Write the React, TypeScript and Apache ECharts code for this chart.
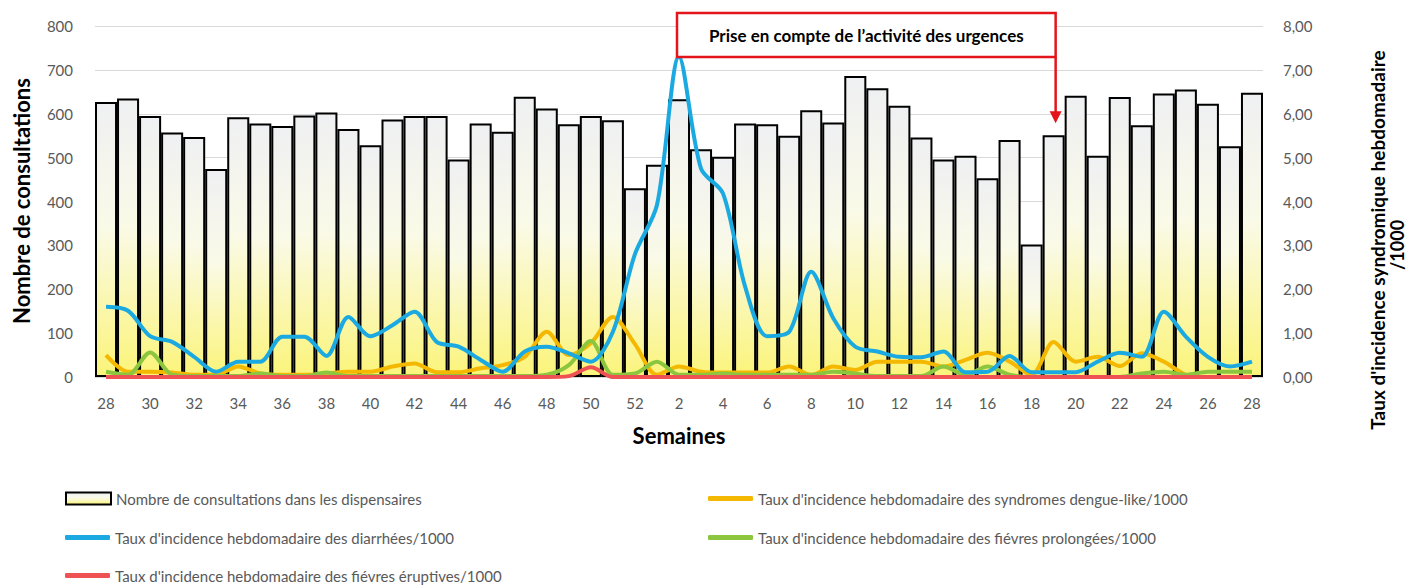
import React, { useEffect, useRef } from 'react';
import * as echarts from 'echarts';

const FONT = 'Lato, "Open Sans", sans-serif';

const weeks = [
  '28', '29', '30', '31', '32', '33', '34', '35', '36', '37', '38', '39', '40', '41', '42', '43', '44', '45', '46', '47', '48', '49', '50', '51', '52',
  '1', '2', '3', '4', '5', '6', '7', '8', '9', '10', '11', '12', '13', '14', '15', '16', '17', '18', '19', '20', '21', '22', '23', '24', '25', '26', '27', '28',
];

const consultations = [
  627, 635, 595, 557, 547, 474, 592, 578, 572, 596, 603, 565, 528, 587, 595, 595, 496, 578, 559, 639, 612, 576, 595, 585, 430,
  484, 633, 519, 502, 578, 576, 550, 608, 580, 686, 658, 618, 546, 496, 504, 453, 540, 302, 551, 641, 504, 638, 574, 646, 655, 623, 526, 648,
];

const diarrhees = [
  1.6, 1.51, 0.93, 0.8, 0.46, 0.12, 0.35, 0.35, 0.92, 0.92, 0.48, 1.37, 0.93, 1.18, 1.49, 0.8, 0.69, 0.39, 0.12, 0.58, 0.69, 0.54, 0.35, 1.03, 2.8,
  3.92, 7.3, 4.75, 4.18, 2.06, 0.93, 1.03, 2.4, 1.34, 0.69, 0.58, 0.46, 0.45, 0.58, 0.11, 0.12, 0.48, 0.11, 0.11, 0.11, 0.35, 0.55, 0.46, 1.49, 0.92, 0.46, 0.24, 0.35,
];

const dengue = [
  0.5, 0.12, 0.12, 0.1, 0.05, 0.05, 0.24, 0.08, 0.05, 0.05, 0.08, 0.12, 0.12, 0.24, 0.31, 0.11, 0.11, 0.2, 0.27, 0.46, 1.03, 0.5, 0.77, 1.37, 0.75,
  0.05, 0.24, 0.12, 0.1, 0.1, 0.1, 0.24, 0.05, 0.24, 0.16, 0.35, 0.35, 0.35, 0.24, 0.39, 0.55, 0.35, 0.05, 0.8, 0.35, 0.46, 0.25, 0.54, 0.35, 0.05, 0, 0, 0,
];

const fievresProlongees = [
  0.12, 0.05, 0.56, 0.05, 0.02, 0.02, 0.02, 0.08, 0.02, 0.02, 0.1, 0.02, 0.02, 0.02, 0.02, 0.02, 0.02, 0.02, 0.02, 0.02, 0.05, 0.27, 0.82, 0.05, 0.08,
  0.35, 0.05, 0.05, 0.08, 0.05, 0.05, 0.05, 0.05, 0.12, 0.08, 0.02, 0.02, 0.02, 0.24, 0.05, 0.24, 0.05, 0, 0, 0, 0, 0, 0.08, 0.12, 0.05, 0.12, 0.12, 0.12,
];

const fievresEruptives = [
  0, 0, 0, 0, 0, 0, 0, 0, 0, 0, 0, 0, 0, 0, 0, 0, 0, 0, 0, 0, 0, 0.02, 0.22, 0, 0,
  0, 0, 0, 0, 0, 0, 0, 0, 0, 0, 0, 0, 0, 0, 0, 0, 0, 0, 0, 0, 0, 0, 0, 0, 0, 0, 0, 0,
];

const NAME_BAR = 'Nombre de consultations dans les dispensaires';
const NAME_DIA = "Taux d'incidence hebdomadaire des diarrhées/1000";
const NAME_ERU = "Taux d'incidence hebdomadaire des fiévres éruptives/1000";
const NAME_DEN = "Taux d'incidence hebdomadaire des syndromes dengue-like/1000";
const NAME_PRO = "Taux d'incidence hebdomadaire des fiévres prolongées/1000";

const ANNOTATION = 'Prise en compte de l’activité des urgences';
const ANNOT_FROM = 26; // semaine 2
const ANNOT_TO = 43; // semaine 19

const legendText = { color: '#595959', fontSize: 15, fontFamily: FONT };

const lineSeries = (name: string, data: number[], color: string, z: number) => ({
  name,
  type: 'line',
  yAxisIndex: 1,
  data,
  symbol: 'none',
  smooth: 0.3,
  z,
  itemStyle: { color },
  lineStyle: { color, width: 4 },
});

export default function App() {
  const ref = useRef<HTMLDivElement>(null);

  useEffect(() => {
    document.body.style.margin = '0';
    const chart = echarts.init(ref.current!, null, { renderer: 'svg' });
    const option: any = {
      animation: false,
      textStyle: { fontFamily: FONT },
      grid: { left: 95, right: 147, top: 26, bottom: 209, containLabel: false },
      xAxis: {
        type: 'category',
        data: weeks,
        boundaryGap: true,
        axisLine: { show: true, lineStyle: { color: '#d9d9d9', width: 1 } },
        axisTick: { show: false },
        axisLabel: { interval: 1, color: '#595959', fontSize: 15, margin: 18, fontFamily: FONT },
        name: 'Semaines',
        nameLocation: 'middle',
        nameGap: 47,
        nameTextStyle: { fontWeight: 'bold', fontSize: 22, color: '#000', fontFamily: FONT },
      },
      yAxis: [
        {
          type: 'value',
          min: 0,
          max: 800,
          interval: 100,
          axisLine: { show: false },
          axisTick: { show: false },
          axisLabel: { color: '#595959', fontSize: 15, margin: 22, fontFamily: FONT },
          splitLine: { show: true, lineStyle: { color: '#d9d9d9', width: 1 } },
        },
        {
          type: 'value',
          min: 0,
          max: 8,
          interval: 1,
          position: 'right',
          axisLine: { show: false },
          axisTick: { show: false },
          splitLine: { show: false },
          axisLabel: {
            color: '#595959',
            fontSize: 15,
            margin: 20,
            fontFamily: FONT,
            formatter: (v: number) => v.toFixed(2).replace('.', ','),
          },
        },
      ],
      legend: [
        { data: [{ name: NAME_BAR, icon: 'rect' }], left: 60, top: 486, itemWidth: 45, itemHeight: 12, selectedMode: false, textStyle: legendText },
        { data: [{ name: NAME_DIA, icon: 'roundRect' }], left: 60, top: 525, itemWidth: 45, itemHeight: 5, selectedMode: false, textStyle: legendText },
        { data: [{ name: NAME_ERU, icon: 'roundRect' }], left: 60, top: 563, itemWidth: 45, itemHeight: 5, selectedMode: false, textStyle: legendText },
        { data: [{ name: NAME_DEN, icon: 'roundRect' }], left: 703, top: 486, itemWidth: 45, itemHeight: 5, selectedMode: false, textStyle: legendText },
        { data: [{ name: NAME_PRO, icon: 'roundRect' }], left: 703, top: 525, itemWidth: 45, itemHeight: 5, selectedMode: false, textStyle: legendText },
      ],
      series: [
        {
          name: NAME_BAR,
          type: 'bar',
          data: consultations,
          barCategoryGap: '0%',
          z: 1,
          itemStyle: {
            color: {
              type: 'linear',
              x: 0, y: 0, x2: 0, y2: 1,
              colorStops: [
                { offset: 0, color: '#eff0f2' },
                { offset: 0.45, color: '#fafae8' },
                { offset: 1, color: '#fbf47a' },
              ],
            },
            borderColor: '#000',
            borderWidth: 2,
          },
        },
        lineSeries(NAME_DEN, dengue, '#f5b800', 3),
        lineSeries(NAME_PRO, fievresProlongees, '#8cc63f', 4),
        lineSeries(NAME_DIA, diarrhees, '#1ba9e1', 5),
        lineSeries(NAME_ERU, fievresEruptives, '#ee5253', 6),
      ],
    };
    chart.setOption(option);

    const xa = chart.convertToPixel({ xAxisIndex: 0 }, ANNOT_FROM) as number;
    const xb = chart.convertToPixel({ xAxisIndex: 0 }, ANNOT_TO) as number;
    const barTop = chart.convertToPixel({ yAxisIndex: 0 }, consultations[ANNOT_TO]) as number;
    const boxTop = 13;
    const boxBottom = 57;
    const tip = barTop - 12;

    chart.setOption({
      graphic: [
        {
          type: 'rect',
          z: 100,
          shape: { x: xa - 2, y: boxTop, width: xb - xa + 4, height: boxBottom - boxTop },
          style: { fill: '#fff', stroke: '#e3151a', lineWidth: 2.5 },
        },
        {
          type: 'text',
          z: 101,
          x: (xa + xb) / 2,
          y: (boxTop + boxBottom) / 2,
          style: { text: ANNOTATION, fill: '#000', font: 'bold 17px ' + FONT, align: 'center', verticalAlign: 'middle' },
        },
        {
          type: 'line',
          z: 100,
          shape: { x1: xb + 2, y1: boxBottom, x2: xb + 2, y2: tip - 10 },
          style: { stroke: '#e3151a', lineWidth: 2.5 },
        },
        {
          type: 'polygon',
          z: 100,
          shape: { points: [[xb - 4, tip - 12], [xb + 8, tip - 12], [xb + 2, tip]] },
          style: { fill: '#e3151a' },
        },
        {
          type: 'text',
          x: 21,
          y: 201,
          rotation: Math.PI / 2,
          style: { text: 'Nombre de consultations', fill: '#000', font: 'bold 22px ' + FONT, align: 'center', verticalAlign: 'middle' },
        },
        {
          type: 'text',
          x: 1377,
          y: 240,
          rotation: Math.PI / 2,
          style: { text: "Taux d'incidence syndromique hebdomadaire", fill: '#000', font: 'bold 19px ' + FONT, align: 'center', verticalAlign: 'middle' },
        },
        {
          type: 'text',
          x: 1397,
          y: 245,
          rotation: Math.PI / 2,
          style: { text: '/1000', fill: '#000', font: 'bold 18px ' + FONT, align: 'center', verticalAlign: 'middle' },
        },
      ],
    });

    return () => chart.dispose();
  }, []);

  return <div ref={ref} style={{ width: 1410, height: 586 }} />;
}
